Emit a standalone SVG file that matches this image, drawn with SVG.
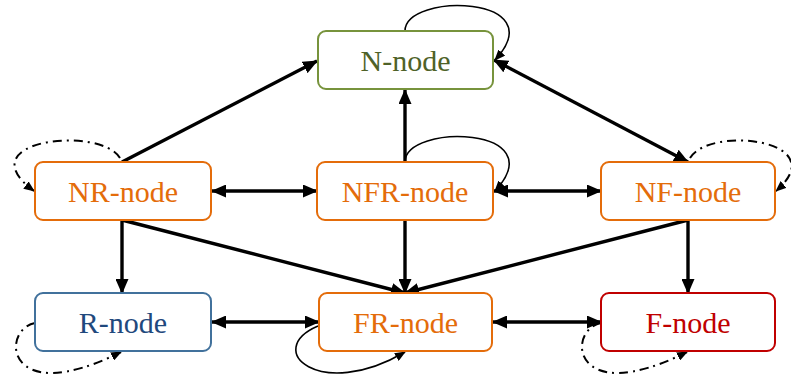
<svg xmlns="http://www.w3.org/2000/svg" width="791" height="376" viewBox="0 0 791 376">
<style>
.box{fill:#fff;stroke-width:2}
.t{font-family:"Liberation Serif","Times New Roman",serif;font-size:30px;text-anchor:middle}
.thick{fill:none;stroke:#000;stroke-width:3.4}
.loop{fill:none;stroke:#000;stroke-width:1.6}
.dd{fill:none;stroke:#000;stroke-width:2;stroke-dasharray:9 5 2 5}
</style>
<defs>
<marker id="ah" markerUnits="userSpaceOnUse" markerWidth="15" markerHeight="13" refX="14" refY="6.5" orient="auto-start-reverse">
<path d="M0,0 L15,6.5 L0,13 z" fill="#000"/>
</marker>
<marker id="sh" markerUnits="userSpaceOnUse" markerWidth="11" markerHeight="9" refX="10" refY="4.5" orient="auto">
<path d="M0,0 L11,4.5 L0,9 z" fill="#000"/>
</marker>
</defs>
<rect width="791" height="376" fill="#fff"/>
<g id="connectors">
<line class="thick" x1="122" y1="162" x2="317" y2="61" marker-end="url(#ah)"/>
<line class="thick" x1="405" y1="162" x2="405" y2="90" marker-end="url(#ah)"/>
<line class="thick" x1="494" y1="60" x2="688" y2="162" marker-start="url(#ah)" marker-end="url(#ah)"/>
<line class="thick" x1="212" y1="191" x2="317" y2="191" marker-start="url(#ah)" marker-end="url(#ah)"/>
<line class="thick" x1="494" y1="191" x2="601" y2="191" marker-start="url(#ah)" marker-end="url(#ah)"/>
<line class="thick" x1="122" y1="220" x2="122" y2="293" marker-end="url(#ah)"/>
<line class="thick" x1="122" y1="220" x2="405" y2="293" marker-end="url(#ah)"/>
<line class="thick" x1="405" y1="220" x2="405" y2="293" marker-end="url(#ah)"/>
<line class="thick" x1="688" y1="220" x2="405" y2="293" marker-end="url(#ah)"/>
<line class="thick" x1="688" y1="220" x2="688" y2="293" marker-end="url(#ah)"/>
<line class="thick" x1="212" y1="322" x2="319" y2="322" marker-start="url(#ah)" marker-end="url(#ah)"/>
<line class="thick" x1="493" y1="322" x2="601" y2="322" marker-start="url(#ah)" marker-end="url(#ah)"/>
<path class="loop" d="M405,31 C405,-8 555,-5 495,60" marker-end="url(#sh)"/>
<path class="loop" d="M405,162 C405,123 555,126 495,191" marker-end="url(#sh)"/>
<path class="loop" d="M318,326 C262,350 320,402 405,352" marker-end="url(#sh)"/>
<path class="dd" d="M120,158 C100,125 -35,140 34,191" marker-end="url(#sh)"/>
<path class="dd" d="M690,158 C710,125 835,140 776,191" marker-end="url(#sh)"/>
<path class="dd" d="M35,323 C0,330 5,410 121,352" marker-end="url(#sh)"/>
<path class="dd" d="M601,323 C566,330 571,410 687,352" marker-end="url(#sh)"/>
</g>
<g id="N-node">
<rect class="box" x="318" y="31" width="175" height="58" rx="8" stroke="#77933C"/>
<text class="t" x="405.5" y="71" fill="#4F6228">N-node</text>
</g>
<g id="NR-node">
<rect class="box" x="35" y="162" width="176" height="58" rx="8" stroke="#E46C0A"/>
<text class="t" x="123" y="202" fill="#E46C0A">NR-node</text>
</g>
<g id="NFR-node">
<rect class="box" x="317" y="162" width="176" height="58" rx="8" stroke="#E46C0A"/>
<text class="t" x="405" y="202" fill="#E46C0A">NFR-node</text>
</g>
<g id="NF-node">
<rect class="box" x="601" y="162" width="174" height="58" rx="8" stroke="#E46C0A"/>
<text class="t" x="688" y="202" fill="#E46C0A">NF-node</text>
</g>
<g id="R-node">
<rect class="box" x="35" y="293" width="176" height="58" rx="8" stroke="#41719C"/>
<text class="t" x="123" y="333" fill="#1F497D">R-node</text>
</g>
<g id="FR-node">
<rect class="box" x="319" y="293" width="173" height="58" rx="8" stroke="#E46C0A"/>
<text class="t" x="405.5" y="333" fill="#E46C0A">FR-node</text>
</g>
<g id="F-node">
<rect class="box" x="601" y="293" width="174" height="58" rx="8" stroke="#C00000"/>
<text class="t" x="688" y="333" fill="#C00000">F-node</text>
</g>
</svg>
